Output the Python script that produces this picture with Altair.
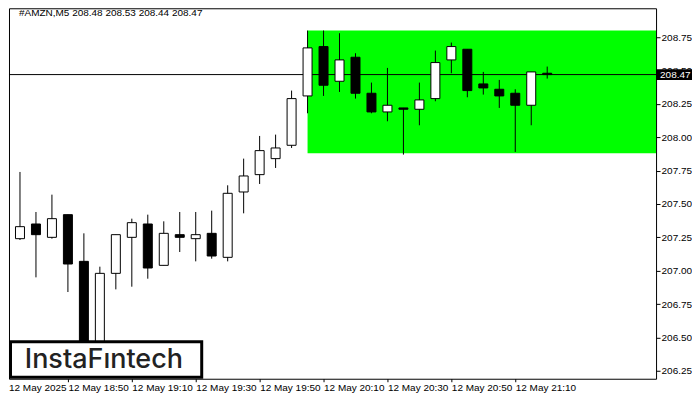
import altair as alt
import pandas as pd

times = ["18:30", "18:35", "18:40", "18:45", "18:50", "18:55", "19:00", "19:05", "19:10", "19:15",
         "19:20", "19:25", "19:30", "19:35", "19:40", "19:45", "19:50", "19:55", "20:00", "20:05",
         "20:10", "20:15", "20:20", "20:25", "20:30", "20:35", "20:40", "20:45", "20:50", "20:55",
         "21:00", "21:05", "21:10", "21:15", "21:20"]
opens = [206.83, 207.24, 207.35, 207.25, 207.42, 207.07, 206.35, 206.98, 207.25, 207.35,
         207.04, 207.27, 207.24, 207.28, 207.10, 207.59, 207.72, 207.84, 207.94, 208.31,
         208.68, 208.42, 208.60, 208.33, 208.19, 208.22, 208.21, 208.29, 208.58, 208.66,
         208.40, 208.36, 208.33, 208.24, 208.48]
highs = [207.30, 207.74, 207.44, 207.57, 207.42, 207.28, 207.03, 207.27, 207.39, 207.42,
         207.37, 207.44, 207.44, 207.45, 207.64, 207.84, 208.01, 208.02, 208.35, 208.80,
         208.80, 208.78, 208.63, 208.41, 208.52, 208.22, 208.41, 208.65, 208.71, 208.66,
         208.49, 208.43, 208.36, 208.49, 208.53]
lows = [206.82, 207.23, 206.95, 207.24, 206.84, 206.30, 206.30, 206.86, 206.88, 206.94,
        207.04, 207.14, 207.07, 207.09, 207.07, 207.43, 207.65, 207.77, 207.92, 208.18,
        208.31, 208.34, 208.29, 208.18, 208.12, 207.87, 208.09, 208.27, 208.48, 208.30,
        208.32, 208.22, 207.89, 208.09, 208.44]
closes = [207.25, 207.33, 207.27, 207.39, 207.05, 206.36, 206.98, 207.27, 207.36, 207.02,
          207.28, 207.25, 207.27, 207.11, 207.58, 207.71, 207.90, 207.92, 208.29, 208.67,
          208.39, 208.58, 208.33, 208.19, 208.24, 208.21, 208.28, 208.56, 208.68, 208.35,
          208.37, 208.31, 208.24, 208.49, 208.47]

x_ticks = [4, 8, 12, 16, 20, 24, 28, 32]
y_ticks = [206.25, 206.50, 206.75, 207.00, 207.25, 207.50, 207.75, 208.00, 208.25, 208.50, 208.75]
zone_start = 19
zone_top = 208.80
zone_bottom = 207.88
last_price = 208.47
header = "#AMZN,M5  208.48 208.53 208.44 208.47"
first_label = "12 May 2025"
logo = "InstaF\u0131ntech"

W, H = 648, 371
x_dom = [0.3125, 40.8125]
y_dom = [206.19, 208.967]
FONT = "Liberation Sans"

df = pd.DataFrame({"i": list(range(len(times))), "t": times, "o": opens, "h": highs,
                   "l": lows, "c": closes})
df["dir"] = ["up" if c > o else "down" for o, c in zip(opens, closes)]

label_arr = "[" + ",".join("'12 May " + t + "'" for t in times) + "]"

xs = alt.Scale(domain=x_dom, nice=False, zero=False, padding=0)
ys = alt.Scale(domain=y_dom, nice=False, zero=False, padding=0)

x_axis = alt.Axis(values=x_ticks, labelExpr=label_arr + "[datum.value]", labelAlign="left",
                  tickSize=3, labelPadding=1, domain=False, grid=False, title=None,
                  labelFont=FONT, labelFontSize=10, labelColor="black", tickColor="black",
                  labelOverlap=False)
y_axis = alt.Axis(values=y_ticks, format=".2f", orient="right", tickSize=4, labelPadding=1,
                  domain=False, grid=False, title=None, labelFont=FONT, labelFontSize=10,
                  labelColor="black", tickColor="black", labelOverlap=False, labelBound=False)


def X(f):
    return alt.X(f, scale=xs, axis=x_axis)


def Y(f):
    return alt.Y(f, scale=ys, axis=y_axis)


base = alt.Chart(df)

zone = alt.Chart(pd.DataFrame({"x": [zone_start], "x2": [x_dom[1]], "y": [zone_top], "y2": [zone_bottom]})).mark_rect(
    color="#00FF00", clip=True).encode(x=X("x:Q"), x2="x2:Q", y=Y("y:Q"), y2="y2:Q")

pline = alt.Chart(pd.DataFrame({"p": [last_price]})).mark_rule(color="black", strokeWidth=1).encode(
    y=Y("p:Q"))

wicks = base.mark_rule(color="black", strokeWidth=1, clip=True).encode(
    x=X("i:Q"), y=Y("l:Q"), y2="h:Q")

bodies = base.mark_bar(size=9, stroke="black", strokeWidth=1, clip=True).encode(
    x=X("i:Q"), y=Y("o:Q"), y2="c:Q",
    fill=alt.Fill("dir:N", scale=alt.Scale(domain=["up", "down"], range=["white", "black"]), legend=None))

logo_box = alt.Chart(pd.DataFrame({"a": [1]})).mark_rect(fill="white", stroke="black", strokeWidth=3).encode(
    x=alt.value(1.5), x2=alt.value(193), y=alt.value(334), y2=alt.value(369.5))
logo_txt = alt.Chart(pd.DataFrame({"a": [1]})).mark_text(
    text=logo, font="Inter", fontSize=27, fontWeight=500, color="#222222", align="center",
    baseline="middle").encode(x=alt.value(95), y=alt.value(352))

head = alt.Chart(pd.DataFrame({"a": [1]})).mark_text(
    text=header, font=FONT, fontSize=10, color="black", align="left", baseline="middle").encode(
    x=alt.value(10), y=alt.value(5))

pbox = alt.Chart(pd.DataFrame({"y": [last_price + 0.04], "y2": [last_price - 0.04]})).mark_rect(color="black").encode(
    x=alt.value(W), x2=alt.value(W + 36), y=Y("y:Q"), y2="y2:Q")
ptxt = alt.Chart(pd.DataFrame({"p": [last_price]})).mark_text(
    font=FONT, fontSize=10, color="white", align="left", baseline="middle").encode(
    x=alt.value(W + 4), y=Y("p:Q"), text=alt.Text("p:Q", format=".2f"))

first = alt.Chart(pd.DataFrame({"a": [1]})).mark_text(
    text=first_label, font=FONT, fontSize=10, color="black", align="left", baseline="top").encode(
    x=alt.value(0), y=alt.value(H + 4))

chart = alt.layer(zone, pline, wicks, bodies, logo_box, logo_txt, head, pbox, ptxt, first).properties(
    width=W, height=H, padding={"left": 0, "top": 0, "right": 0, "bottom": 0}, background="white"
).configure_view(stroke="black", strokeWidth=1)

chart.save("out.html", embed_options={"renderer": "svg", "actions": False})
